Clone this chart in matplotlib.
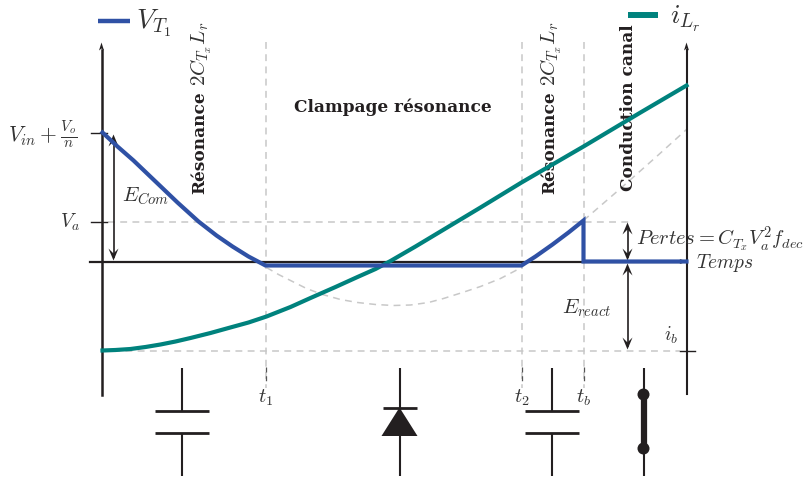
import matplotlib
matplotlib.use("Agg")
import matplotlib.pyplot as plt
from matplotlib.patches import Polygon, Circle

plt.rcParams['mathtext.fontset'] = 'cm'
plt.rcParams['font.family'] = ['DejaVu Serif']

INK = '#231f20'
BLUE = '#2f51a5'
TEAL = '#00827d'
GREY = '#c8c8c8'

# Waveforms (horizontal = time, vertical = level)
vt_time = [102, 117, 133, 155, 177, 198, 216, 232, 248, 265, 521, 535, 552, 568, 583, 583, 686]
vt_level = [133, 147, 161, 182, 203, 222, 236, 247, 257, 266, 266, 257, 245, 233, 221, 262, 262]
il_time = [102, 115, 130, 145, 160, 175, 190, 210, 228, 248, 266, 290, 310, 335, 357, 375, 390, 415, 440, 480, 521, 583, 640, 686]
il_level = [351, 350.5, 349.5, 347.5, 345, 342, 338.5, 333.5, 328.5, 323, 317, 307.5, 298.5, 287.5, 277.5, 269.5, 261.5, 247, 232, 208, 183, 147, 113, 86]
res_time = [266, 278, 290, 306, 322, 340, 357, 375, 393, 410, 428, 443, 462, 480, 500, 521]
res_level = [268, 275, 281, 289, 295, 300, 303, 305, 306, 305.5, 303, 299, 293, 287, 279, 268]
res2_time = [583, 620, 655, 686]
res2_level = [221, 189, 158, 130]

# Event instants and reference levels
event_times = [265, 521, 583]
event_labels = ['$t_1$', '$t_2$', '$t_b$']
left_axis, right_axis = 101, 686
zero_level, va_level, ib_level, top_level = 262, 222, 351, 133

fig = plt.figure(figsize=(8.08, 4.81), dpi=100)
ax = fig.add_axes([0, 0, 1, 1])
ax.set_xlim(-0.5, 807.5)
ax.set_ylim(480.5, -0.5)
ax.axis('off')

dash = dict(color=GREY, lw=1.1, ls=(0, (4.5, 3.5)), zorder=1)
for t in event_times:
    ax.plot([t, t], [42, 388], **dash)
    ax.plot([t, t], [367, 381], color='#555555', lw=0.9, ls=(0, (4, 3)), zorder=1)
ax.plot([107, 628], [va_level] * 2, **dash)
ax.plot([100, 679], [ib_level] * 2, **dash)
ax.plot(res_time, res_level, **dash)
ax.plot(res2_time, res2_level, **dash)

thin = dict(color=INK, lw=1.5, solid_capstyle='butt', zorder=3)
ax.plot([left_axis] * 2, [50, 395], lw=1.8, color=INK, zorder=3)
ax.plot([right_axis] * 2, [50, 394], lw=1.5, color=INK, zorder=3)
ax.plot([89, 680], [zero_level] * 2, lw=1.6, color=INK, zorder=3)
ax.plot([90, 106], [top_level] * 2, color=INK, lw=1, zorder=3)
ax.plot([90, 106], [va_level] * 2, color=INK, lw=1, zorder=3)
ax.plot([679, 694], [ib_level] * 2, color=INK, lw=1, zorder=3)


def head(x, y, dx, dy, w=5, ln=12, notch=7, z=4):
    """Stealth arrow head pointing along the unit direction (dx, dy)."""
    px, py = -dy, dx
    ax.add_patch(Polygon([(x, y),
                          (x - dx * ln + px * w, y - dy * ln + py * w),
                          (x - dx * notch, y - dy * notch),
                          (x - dx * ln - px * w, y - dy * ln - py * w)],
                         closed=True, fc=INK, ec='none', zorder=z))


def double_arrow(x, y0, y1):
    ax.plot([x, x], [y0 + 4, y1 - 4], color=INK, lw=1.2, zorder=4)
    head(x, y0, 0, -1)
    head(x, y1, 0, 1)


head(left_axis, 43, 0, -1, w=2.5, ln=8, notch=6)
head(right_axis, 43, 0, -1, w=2.5, ln=8, notch=6)
head(687, zero_level, 1, 0, w=2.5, ln=8, notch=6)
double_arrow(113, 135, 261)
double_arrow(627, 223, 261)
double_arrow(627, 264, 350)

ax.plot(il_time, il_level, color=TEAL, lw=3, zorder=5, solid_joinstyle='round')
ax.plot(vt_time, vt_level, color=BLUE, lw=3, zorder=6, solid_joinstyle='miter')

# Legend
ax.plot([97, 129], [21, 21], color=BLUE, lw=3.2, solid_capstyle='butt')
ax.plot([627, 657], [15, 15], color=TEAL, lw=4.3, solid_capstyle='butt')
C = '#333333'
ax.text(136, 23, r'$V_{T_1}$', fontsize=20, color=C, va='center', ha='left')
ax.text(670, 18, r'$i_{L_r}$', fontsize=20, color=C, va='center', ha='left')

# Labels
ax.text(8, 134, r'$V_{in}+\frac{V_o}{n}$', fontsize=15.5, color=C, va='center', ha='left')
ax.text(60, 222, r'$V_a$', fontsize=14, color=C, va='center', ha='left')
ax.text(122, 196, r'$E_{Com}$', fontsize=15, color=C, va='center', ha='left')
ax.text(636, 239, r'$Pertes = C_{T_x}V_a^2f_{dec}$', fontsize=14.8, color=C, va='center', ha='left')
ax.text(695, 263, r'$Temps$', fontsize=14, color=C, va='center', ha='left')
ax.text(562, 308, r'$E_{react}$', fontsize=15, color=C, va='center', ha='left')
ax.text(664, 335, r'$i_b$', fontsize=14, color=C, va='center', ha='left')
for t, lab in zip(event_times, event_labels):
    ax.text(t, 397, lab, fontsize=14.5, color=C, va='center', ha='center')

bold = dict(fontsize=12.2, fontweight='bold', color=INK)
ax.text(294, 107, 'Clampage résonance', va='center', ha='left', **bold)
for x in (199, 549):
    ax.text(x, 194, 'Résonance', rotation=90, va='bottom', ha='center', **bold)
    ax.text(x + 2, 86, r'$2C_{T_x}L_r$', rotation=90, va='bottom', ha='center',
            fontsize=15, color=C)
ax.text(628, 191, 'Conduction canal', rotation=90, va='bottom', ha='center', **bold)

# Conduction state symbols
for x in (181, 551):
    ax.plot([x, x], [368, 411], **thin)
    ax.plot([x, x], [433, 476], **thin)
    ax.plot([x - 27, x + 27], [411, 411], color=INK, lw=2, solid_capstyle='butt')
    ax.plot([x - 27, x + 27], [433, 433], color=INK, lw=2, solid_capstyle='butt')
dx = 399
ax.plot([dx, dx], [368, 476], **thin)
ax.plot([dx - 17, dx + 17], [408, 408], color=INK, lw=2, solid_capstyle='butt')
ax.add_patch(Polygon([(dx, 408), (dx - 18, 436.5), (dx + 18, 436.5)], closed=True, fc=INK, ec='none', zorder=4))
sx = 643
ax.plot([sx, sx], [368, 476], **thin)
ax.plot([sx, sx], [395, 449], color=INK, lw=4.5, solid_capstyle='butt', zorder=4)
ax.add_patch(Circle((sx, 395), 6, fc=INK, ec='none', zorder=5))
ax.add_patch(Circle((sx, 449), 6, fc=INK, ec='none', zorder=5))

fig.savefig('out.png', dpi=100)
